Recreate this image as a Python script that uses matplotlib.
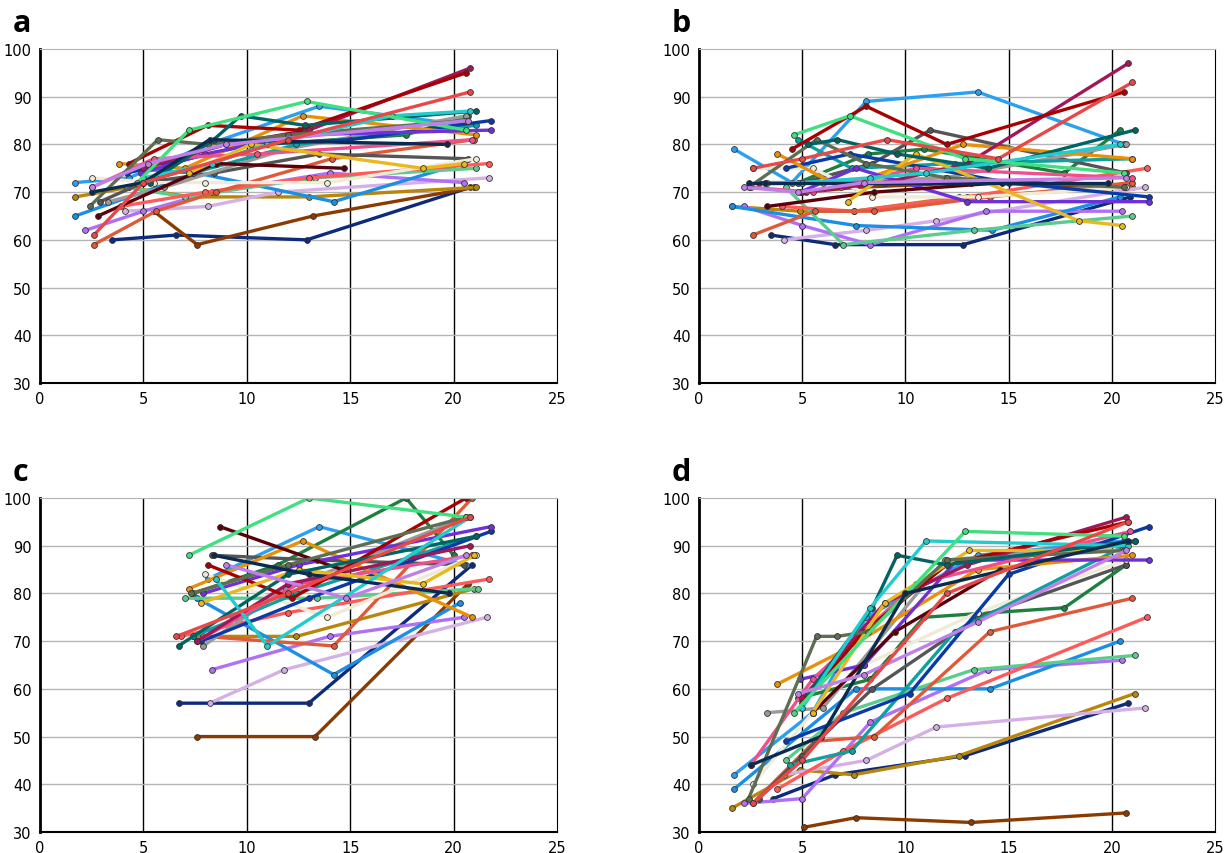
import matplotlib
matplotlib.use("Agg")
import matplotlib.pyplot as plt

# one colour per subject, same order in every panel
COLORS = [
    '#0d2b7a', '#8b3a00', '#b8860b', '#d4b0e6', '#b070f5', '#1a8fe3',
    '#2aa0f0', '#5ccc8c', '#ff5a5a', '#e05a3a', '#1e8040', '#555555',
    '#f0ead6', '#9a9a9a', '#10a0a0', '#0a3aa8', '#e8900a', '#7030d8',
    '#f0508a', '#a0185a', '#a80000', '#5a0008', '#e8b820', '#5e6e50',
    '#006464', '#22cccc', '#40e080', '#0a2a50', '#c080e8', '#e84848',
]

# panel a
A_X = [
    [3.5, 6.6, 12.9, 20.8], [5.5, 7.6, 13.2, 21.0], [1.7, 4.3, 7.3, 13.0, 21.1],
    [4.1, 8.1, 11.5, 21.7], [2.2, 5.0, 8.3, 14.0, 20.5], [1.7, 7.6, 14.2, 20.4],
    [1.7, 4.3, 8.1, 13.5, 20.6], [4.2, 7.0, 13.3, 21.1], [3.9, 8.0, 13.0, 21.7],
    [2.6, 5.6, 8.5, 14.1, 21.0], [4.8, 8.3, 10.9, 17.7, 20.7], [2.9, 5.0, 8.4, 13.5, 20.7],
    [2.5, 5.5, 8.0, 13.9, 21.1], [3.3, 6.0, 11.9, 20.6], [4.4, 7.4, 12.4, 21.1],
    [4.2, 10.2, 15.0, 21.8], [3.8, 7.0, 12.7, 21.1], [4.9, 8.0, 12.5, 21.8],
    [2.5, 5.5, 10.5, 20.9], [5.0, 9.0, 13.0, 20.8], [4.3, 8.1, 12.5, 20.6],
    [2.8, 8.5, 14.7], [7.2, 10.2, 18.5, 20.5], [2.4, 5.7, 8.1, 12.0, 20.6],
    [5.3, 8.4, 9.7, 12.8, 21.1], [5.0, 8.3, 11.0, 17.0, 20.8], [4.7, 7.2, 12.9, 20.6],
    [2.5, 5.0, 8.2, 19.7], [2.5, 5.2, 9.0, 20.7], [2.6, 5.0, 12.0, 20.8],
]
A_Y = [
    [60, 61, 60, 71], [66, 59, 65, 71], [69, 71, 69, 69, 71],
    [66, 67, 70, 73], [62, 66, 70, 74, 72], [65, 74, 68, 76],
    [72, 73, 80, 88, 84], [71, 69, 73, 75], [67, 70, 73, 76],
    [59, 66, 70, 77, 81], [72, 76, 80, 82, 86], [68, 72, 74, 78, 77],
    [73, 72, 72, 72, 77], [68, 71, 79, 86], [75, 74, 80, 84],
    [74, 80, 81, 85], [76, 75, 86, 82], [74, 78, 82, 83],
    [71, 77, 78, 81], [75, 80, 83, 96], [76, 84, 83, 95],
    [65, 76, 75], [74, 80, 75, 76], [67, 81, 80, 82, 85],
    [72, 81, 86, 84, 87], [73, 76, 80, 86, 87], [72, 83, 89, 83],
    [70, 72, 81, 80], [71, 76, 80, 85], [61, 72, 81, 91],
]

# panel b
B_X = [
    [3.5, 6.6, 12.8, 20.9], [5.2, 7.6, 13.2, 20.7], [1.6, 4.9, 7.5, 12.6, 21.0],
    [4.1, 8.1, 11.5, 21.6], [2.2, 5.0, 8.3, 13.9, 20.5], [1.6, 7.6, 14.2, 20.4],
    [1.7, 4.5, 8.1, 13.5, 20.6], [4.2, 7.0, 13.3, 21.0], [4.0, 7.5, 13.0, 21.7],
    [2.6, 5.6, 8.5, 14.1, 21.0], [4.8, 8.2, 10.9, 17.7, 20.4], [2.9, 5.0, 8.4, 11.2, 20.7],
    [2.6, 5.5, 8.4, 13.5, 20.7], [3.3, 6.0, 11.9, 20.7], [4.8, 7.4, 12.4, 21.0],
    [4.2, 7.3, 15.0, 21.8], [3.8, 6.9, 12.8, 21.0], [4.9, 7.6, 13.0, 21.8],
    [2.5, 5.5, 10.5, 21.0], [5.0, 9.0, 13.0, 20.8], [4.5, 8.1, 12.0, 20.6],
    [3.3, 8.5, 14.7], [7.2, 10.5, 18.4, 20.5], [2.4, 5.7, 8.1, 12.0, 20.6],
    [5.3, 6.7, 9.6, 14.0, 21.1], [5.0, 8.3, 11.0, 20.4], [4.6, 7.3, 12.9, 20.6],
    [2.4, 3.2, 8.0, 19.8], [2.2, 4.8, 8.0, 20.7], [2.6, 5.0, 9.1, 14.5, 21.0],
]
B_Y = [
    [61, 59, 59, 69], [70, 71, 72, 71], [67, 66, 66, 69, 71],
    [60, 62, 64, 71], [67, 63, 59, 66, 66], [67, 63, 62, 69],
    [79, 72, 89, 91, 80], [71, 59, 62, 65], [67, 66, 69, 75],
    [61, 66, 66, 69, 72], [72, 78, 79, 74, 83], [72, 72, 76, 83, 74],
    [75, 75, 69, 69, 71], [72, 72, 73, 80], [81, 75, 76, 77],
    [75, 78, 72, 69], [78, 71, 80, 77], [70, 75, 68, 68],
    [71, 70, 75, 73], [70, 72, 76, 97], [79, 88, 80, 91],
    [67, 70, 72], [68, 78, 64, 63], [71, 81, 76, 73, 71],
    [80, 81, 78, 75, 83], [72, 73, 74, 80], [82, 86, 77, 74],
    [72, 72, 72, 72], [71, 70, 72, 73], [75, 77, 81, 77, 93],
]

# panel c
C_X = [
    [6.7, 13.0, 20.9], [7.6, 13.3, 20.7], [7.4, 12.4, 21.0],
    [8.2, 11.8, 21.6], [8.3, 14.0, 20.5], [7.6, 14.2, 20.3],
    [8.1, 13.5, 20.6], [7.0, 13.4, 21.2], [6.8, 12.0, 21.7],
    [7.9, 14.2, 20.9], [7.4, 11.5, 17.7, 20.0], [8.3, 13.4, 20.5],
    [8.0, 13.9, 21.1], [7.9, 11.9, 20.6], [7.4, 12.4, 21.1],
    [7.8, 13.0, 21.8], [7.2, 12.7, 20.9], [7.9, 12.5, 21.8],
    [7.6, 12.5, 20.9], [7.6, 12.0, 20.8], [8.1, 12.2, 20.6],
    [8.7, 14.6], [7.8, 12.5, 18.5, 21.0], [7.3, 12.0, 20.6],
    [6.7, 12.0, 21.1], [8.5, 11.0, 20.8], [7.2, 13.0, 20.6],
    [8.4, 13.0, 19.8], [9.0, 14.8, 20.6], [6.6, 12.0, 20.8],
]
C_Y = [
    [57, 57, 86], [50, 50, 82], [71, 71, 81],
    [57, 64, 75], [64, 71, 75], [79, 63, 78],
    [83, 94, 86], [79, 79, 81], [71, 76, 83],
    [71, 69, 100], [80, 86, 100, 88], [88, 87, 86],
    [84, 75, 88], [69, 81, 96], [71, 80, 92],
    [70, 79, 93], [81, 91, 75], [80, 86, 94],
    [70, 82, 88], [70, 82, 90], [86, 79, 100],
    [94, 85], [78, 85, 82, 88], [80, 86, 96],
    [69, 84, 92], [83, 69, 96], [88, 100, 96],
    [88, 84, 80], [86, 79, 88], [71, 80, 96],
]

# panel d
D_X = [
    [3.6, 6.6, 12.9, 20.8], [5.1, 7.6, 13.2, 20.7], [1.6, 4.9, 7.5, 12.6, 21.1],
    [4.1, 8.1, 11.5, 21.6], [2.2, 5.0, 8.3, 14.0, 20.5], [1.7, 7.6, 14.1, 20.4],
    [1.7, 5.5, 8.1, 13.5, 20.6], [4.2, 7.0, 13.3, 21.1], [3.8, 7.0, 12.0, 21.7],
    [2.6, 5.6, 8.5, 14.1, 21.0], [4.8, 8.3, 10.9, 17.7, 20.7], [2.9, 5.0, 8.4, 13.5, 20.7],
    [2.6, 5.5, 8.0, 13.5, 20.7], [3.3, 6.0, 11.9, 20.6], [4.4, 7.4, 12.4, 21.1],
    [4.2, 10.2, 15.0, 21.8], [3.8, 7.0, 13.5, 21.0], [4.9, 8.0, 12.5, 21.8],
    [2.5, 5.5, 10.5, 20.9], [5.0, 9.0, 13.0, 20.7], [5.0, 8.0, 12.0, 20.8],
    [5.5, 9.5, 14.6], [5.5, 9.0, 13.1, 20.5], [2.4, 5.7, 6.7, 8.2, 12.0, 20.6],
    [5.3, 8.4, 9.6, 12.0, 21.1], [5.0, 8.3, 11.0, 20.8], [4.6, 12.9, 20.6],
    [2.5, 5.9, 10.0, 20.8], [4.8, 8.0, 13.5, 20.7], [2.6, 5.0, 12.0, 20.8],
]
D_Y = [
    [37, 42, 46, 57], [31, 33, 32, 34], [35, 43, 42, 46, 59],
    [42, 45, 52, 56], [36, 37, 53, 64, 66], [39, 60, 60, 70],
    [42, 55, 75, 88, 91], [45, 55, 64, 67], [39, 47, 58, 75],
    [36, 49, 50, 72, 79], [58, 62, 75, 77, 86], [37, 46, 60, 75, 86],
    [40, 55, 65, 76, 87], [55, 56, 87, 90], [44, 47, 72, 91],
    [49, 59, 84, 94], [61, 68, 85, 88], [62, 65, 87, 87],
    [44, 62, 82, 93], [58, 78, 86, 96], [57, 72, 86, 95],
    [55, 72, 85], [55, 78, 89, 89], [37, 71, 71, 72, 87, 89],
    [59, 77, 88, 86, 91], [56, 77, 91, 90], [55, 93, 92],
    [44, 50, 80, 91], [59, 63, 74, 89], [36, 45, 80, 95],
]

PANELS = [
    ('a', A_X, A_Y, [40, 50, 517, 334]),
    ('b', B_X, B_Y, [699, 50, 516, 334]),
    ('c', C_X, C_Y, [40, 499, 517, 334]),
    ('d', D_X, D_Y, [699, 499, 516, 334]),
]

W, H = 1228, 854


def draw_panel(fig, label, xs, ys, box):
    '''Draw one spaghetti panel'''
    left, top, width, height = box
    ax = fig.add_axes([left / W, 1 - (top + height) / H, width / W, height / H])

    for x, y, c in zip(xs, ys, COLORS):
        ax.plot(x, y, color=c, lw=2.4, marker='o', ms=4.2,
                mfc=c, mec='#333333', mew=0.6, solid_capstyle='round')

    ax.set_xlim(0, 25)
    ax.set_ylim(30, 100)
    ax.set_xticks(range(0, 26, 5))
    ax.set_yticks(range(30, 101, 10))

    # vertical grid black, horizontal grid grey
    for v in range(5, 25, 5):
        ax.axvline(v, color='black', lw=1, zorder=0)
    for h in range(40, 100, 10):
        ax.axhline(h, color='#b4b4b4', lw=1, zorder=0)

    ax.spines['top'].set_color('#b4b4b4')
    ax.spines['right'].set_color('black')
    ax.spines['left'].set_linewidth(2)
    ax.spines['bottom'].set_linewidth(1.5)
    ax.tick_params(length=0, labelsize=10.5, pad=6)

    fig.text((left - 27) / W, 1 - (top - 18) / H, label,
             fontsize=22, fontweight='bold', family='Open Sans',
             va='baseline', ha='left')


def main():
    '''Main'''
    fig = plt.figure(figsize=(W / 100, H / 100), dpi=100)
    for label, xs, ys, box in PANELS:
        draw_panel(fig, label, xs, ys, box)
    fig.savefig('out.png', dpi=100)


if __name__ == "__main__":
    main()
